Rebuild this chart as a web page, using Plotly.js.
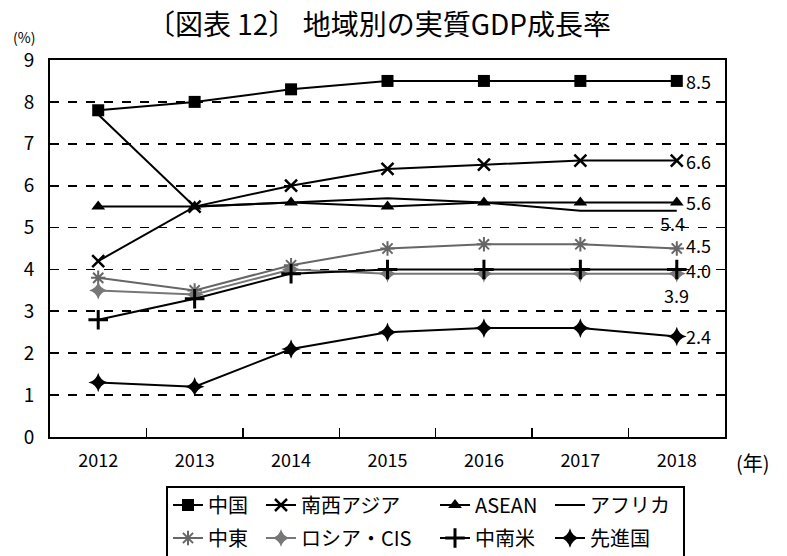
<!DOCTYPE html>
<html>
<head>
<meta charset="utf-8">
<script src="https://cdn.plot.ly/plotly-3.0.1.min.js"></script>
<style>html,body{margin:0;padding:0;background:#fff;}#chart{width:787px;height:556px;}</style>
</head>
<body>
<div id="chart"></div>
<script>
const years = ['2012','2013','2014','2015','2016','2017','2018'];
const china      = [7.8, 8.0, 8.3, 8.5, 8.5, 8.5, 8.5];
const southAsia  = [4.2, 5.5, 6.0, 6.4, 6.5, 6.6, 6.6];
const asean      = [5.5, 5.5, 5.6, 5.5, 5.6, 5.6, 5.6];
const africa     = [7.7, 5.5, 5.6, 5.7, 5.6, 5.4, 5.4];
const middleEast = [3.8, 3.5, 4.1, 4.5, 4.6, 4.6, 4.5];
const russiaCIS  = [3.5, 3.4, 4.0, 3.9, 3.9, 3.9, 3.9];
const latinAm    = [2.8, 3.3, 3.9, 4.0, 4.0, 4.0, 4.0];
const advanced   = [1.3, 1.2, 2.1, 2.5, 2.6, 2.6, 2.4];
const yTicks = [0,1,2,3,4,5,6,7,8,9];

const JP = '"Noto Sans CJK JP", "Noto Sans", sans-serif';

function tr(name, y, sym, color, opts, legend, lw) {
  const t = {
    type: 'scatter', x: years, y: y, name: name,
    mode: sym ? 'lines+markers' : 'lines',
    line: {color: color, width: 2},
    legend: legend, legendwidth: lw
  };
  if (sym) t.marker = Object.assign({symbol: sym, color: color, size: 12, line: {color: color, width: 0}}, opts || {});
  return t;
}

const traces = [
  tr('中国', china, 'square', '#000', {size: 12}, 'legend', 48),
  tr('南西アジア', southAsia, 'x-thin-open', '#000', {size: 12, line: {color: '#000', width: 2.5}}, 'legend', 129),
  tr('ASEAN', asean, 'triangle-up', '#000', {size: 12}, 'legend', 70),
  tr('アフリカ', africa, null, '#000', null, 'legend', 85),
  tr('中東', middleEast, 'asterisk-open', '#666', {size: 12, line: {color: '#666', width: 2}}, 'legend2', 48),
  tr('ロシア・CIS', russiaCIS, 'star-diamond', '#777', {size: 13}, 'legend2', 129),
  tr('中南米', latinAm, 'cross-thin-open', '#000', {size: 14, line: {color: '#000', width: 3}}, 'legend2', 70),
  tr('先進国', advanced, 'star-diamond', '#000', {size: 14}, 'legend2', 85)
];

const L = 50, R = 62, T = 60, B = 119, W = 787, H = 556;
const pw = W - L - R, ph = H - T - B;
const px = v => (v - L) / pw;
const py = v => (H - B - v) / ph;

const last = years.length - 1;
function endLabel(arr, xs, ys) {
  return {
    x: last, y: arr[last], xref: 'x', yref: 'y',
    text: arr[last].toFixed(1), showarrow: false,
    xanchor: 'left', yanchor: 'middle', xshift: xs, yshift: ys,
    font: {family: JP, size: 18, color: '#000'}
  };
}

const annotations = [
  endLabel(china, 7, 0),
  endLabel(southAsia, 7, 0),
  endLabel(asean, 7, 0),
  endLabel(africa, -19, -12),
  endLabel(middleEast, 7, 4),
  endLabel(latinAm, 7, -1),
  endLabel(russiaCIS, -15, -21),
  endLabel(advanced, 7, 0),
  {
    x: px(24), y: py(37), xref: 'paper', yref: 'paper', text: '(%)', showarrow: false,
    xanchor: 'center', yanchor: 'middle', font: {family: JP, size: 14, color: '#000'}
  },
  {
    x: px(753), y: py(462), xref: 'paper', yref: 'paper', text: '(年)', showarrow: false,
    xanchor: 'center', yanchor: 'middle', font: {family: JP, size: 20, color: '#000'}
  }
];

const layout = {
  width: W, height: H,
  margin: {l: L, r: R, t: T, b: B, autoexpand: false},
  paper_bgcolor: '#fff', plot_bgcolor: '#fff',
  font: {family: JP, color: '#000'},
  title: {
    text: '〔図表 12〕 地域別の実質GDP成長率',
    font: {family: JP, size: 28, color: '#000'},
    x: 379/787, xref: 'container', xanchor: 'center',
    y: 1 - 25/556, yref: 'container', yanchor: 'middle'
  },
  xaxis: {
    type: 'category', categoryarray: years, range: [-0.5, 6.5],
    tickson: 'boundaries', ticks: 'inside', ticklen: 9, tickwidth: 1.5, tickcolor: '#000',
    showgrid: false, showline: true, linecolor: '#000', linewidth: 2, mirror: true,
    tickfont: {family: JP, size: 18, color: '#000'}, ticklabelstandoff: 6,
    zeroline: false, fixedrange: true
  },
  yaxis: {
    range: [0, 9], tickvals: yTicks, ticktext: yTicks.map(String),
    showgrid: true, gridcolor: '#000', gridwidth: 1.8, griddash: 'dash',
    showline: true, linecolor: '#000', linewidth: 2, mirror: true,
    ticks: '', tickfont: {family: JP, size: 19, color: '#000'}, ticklabelstandoff: 10,
    zeroline: false, fixedrange: true
  },
  showlegend: true,
  legend: {
    orientation: 'h', x: px(168), xanchor: 'left', y: py(505), yanchor: 'middle',
    bgcolor: 'rgba(0,0,0,0)', borderwidth: 0, itemwidth: 30,
    font: {family: JP, size: 20, color: '#000'}, tracegroupgap: 0
  },
  legend2: {
    orientation: 'h', x: px(168), xanchor: 'left', y: py(538), yanchor: 'middle',
    bgcolor: 'rgba(0,0,0,0)', borderwidth: 0, itemwidth: 30,
    font: {family: JP, size: 20, color: '#000'}, tracegroupgap: 0
  },
  shapes: [{
    type: 'rect', xref: 'paper', yref: 'paper',
    x0: px(167), x1: px(684), y0: py(487), y1: py(566),
    line: {color: '#000', width: 2}, fillcolor: 'rgba(0,0,0,0)'
  }],
  annotations: annotations
};

Plotly.newPlot('chart', traces, layout, {displayModeBar: false, staticPlot: true});
</script>
</body>
</html>
